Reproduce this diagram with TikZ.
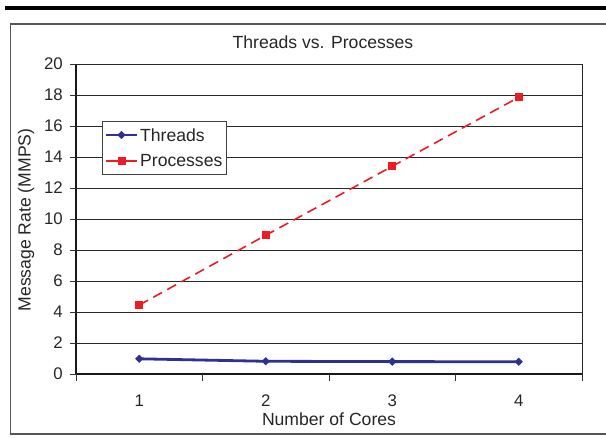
\documentclass[tikz,border=0pt]{standalone}
\usepackage{fontspec}
\setmainfont{Liberation Sans}
\usetikzlibrary{shapes.geometric}
\definecolor{thrblue}{RGB}{46,49,146}
\definecolor{procred}{RGB}{237,28,36}
\definecolor{framegray}{RGB}{85,85,85}
\definecolor{gridgray}{RGB}{40,40,40}
\tikzset{
  txt/.style={font=\fontsize{17.6}{20}\selectfont, text=black!85, inner sep=0pt},
  ticklbl/.style={font=\fontsize{16.8}{19}\selectfont, text=black!85, inner sep=0pt},
  gridline/.style={draw=gridgray, line width=0.9pt},
  axisline/.style={draw=black!90, line width=1.3pt},
  tickmark/.style={draw=black!80, line width=0.9pt},
  thrline/.style={draw=thrblue, line width=2.8pt},
  procline/.style={draw=procred, line width=1.6pt, dash pattern=on 10pt off 6pt},
  thrmark/.style={diamond, fill=thrblue, minimum size=8.5pt, inner sep=0pt},
  procmark/.style={rectangle, fill=procred, minimum size=8pt, inner sep=0pt},
}
\newcommand{\yv}[1]{374-15.5*#1}
\begin{document}
\begin{tikzpicture}[x=1pt,y=-1pt]
\useasboundingbox (0,0) rectangle (606,438);
% top rule and outer frame
\fill[black] (5,6.5) rectangle (606,10);
\draw[framegray, line width=1.3pt] (612,24) -- (10.5,24) -- (10.5,434) -- (612,434);

% title
\node[txt] (title) at (323,42) {Threads vs. Processes};

% horizontal grid
\foreach \v in {2,4,...,20} {
  \draw[gridline] (76,{\yv{\v}}) -- (582,{\yv{\v}});
}
\draw[gridline] (582,64) -- (582,374);
% axes
\draw[axisline] (76,64) -- (76,374) -- (582,374);
% y ticks and labels
\foreach \v in {0,2,...,20} {
  \draw[tickmark] (70,{\yv{\v}}) -- (76,{\yv{\v}});
  \node[ticklbl, anchor=east] (ylab\v) at (63,{\yv{\v}}) {\v};
}
% x ticks and labels
\foreach \i in {0,...,4} {
  \draw[tickmark] ({76+126.5*\i},374) -- ({76+126.5*\i},381);
}
\foreach \i in {1,...,4} {
  \node[ticklbl] (xlab\i) at ({76+126.5*(\i-0.5)},401) {\i};
}
% axis titles
\node[txt] (xtitle) at (329,419) {Number of Cores};
\node[txt, rotate=90] (ytitle) at (26,220) {Message Rate (MMPS)};

% data points
\coordinate (p1) at (139.25,{\yv{4.45}});
\coordinate (p2) at (265.75,{\yv{8.95}});
\coordinate (p3) at (392.25,{\yv{13.4}});
\coordinate (p4) at (518.75,{\yv{17.85}});
\coordinate (t1) at (139.25,{\yv{0.98}});
\coordinate (t2) at (265.75,{\yv{0.82}});
\coordinate (t3) at (392.25,{\yv{0.80}});
\coordinate (t4) at (518.75,{\yv{0.79}});

\draw[procline] (p1) -- (p2) -- (p3) -- (p4);
\draw[thrline] (t1) -- (t2) -- (t3) -- (t4);
\foreach \k in {1,...,4} {
  \node[procmark] (pm\k) at (p\k) {};
  \node[thrmark] (tm\k) at (t\k) {};
}

% legend
\filldraw[fill=white, draw=black!75, line width=0.9pt] (102,121) rectangle (226,174);
\coordinate (la1) at (106,135);
\coordinate (lb1) at (137,135);
\coordinate (la2) at (106,161);
\coordinate (lb2) at (137,161);
\draw[thrline] (la1) -- (lb1);
\node[thrmark] (lgt) at (121.5,135) {};
\draw[draw=procred, line width=1.6pt] (la2) -- (lb2);
\node[procmark] (lgp) at (121.5,161) {};
\node[txt, anchor=west] (lt1) at (140,135) {Threads};
\node[txt, anchor=west] (lt2) at (140,161) {Processes};
\end{tikzpicture}
\end{document}
